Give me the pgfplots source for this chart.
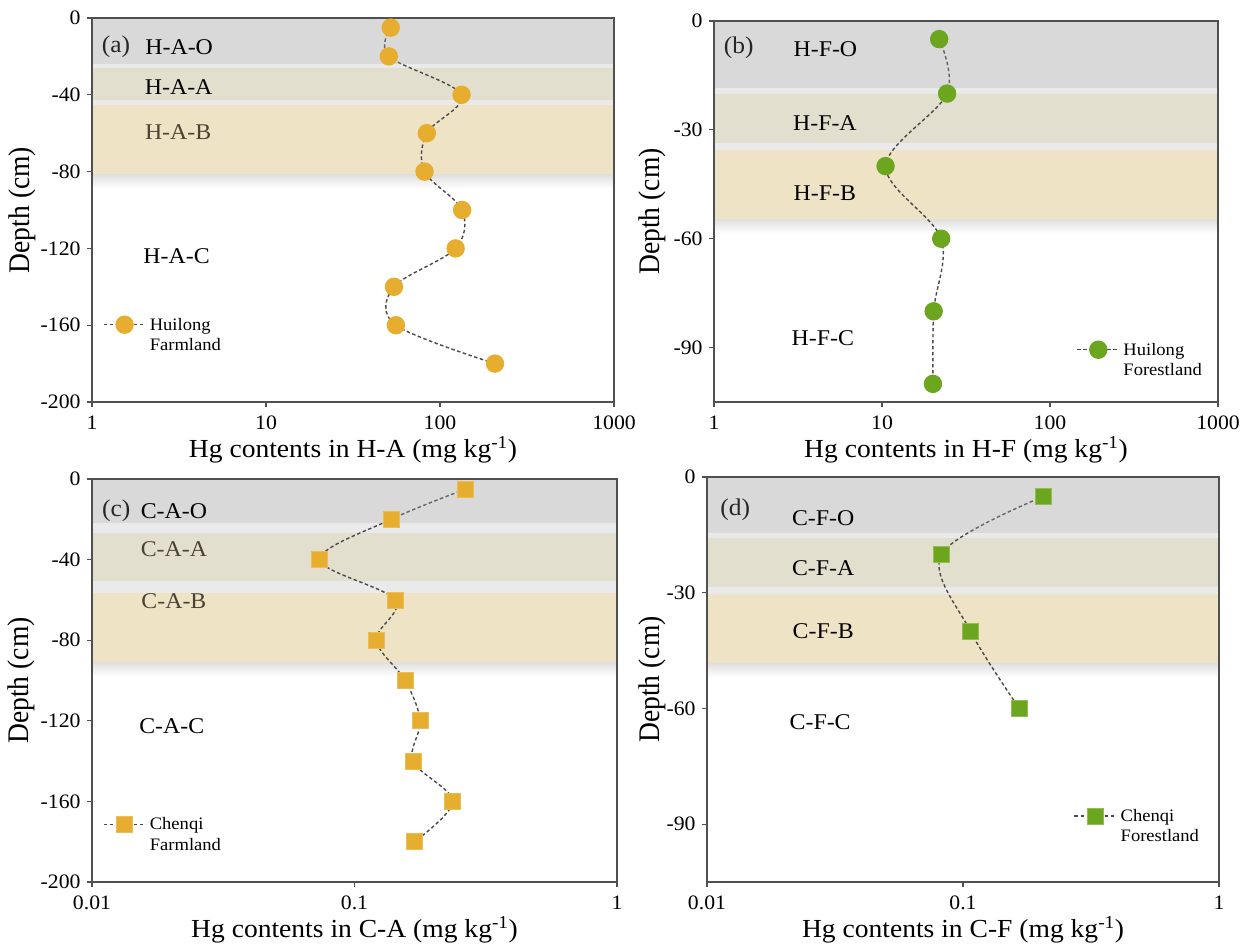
\documentclass[border=0pt]{standalone}
\usepackage{pgfplots}
\pgfplotsset{compat=1.18}
\usepackage{fontspec}
\setmainfont{Liberation Serif}[FakeStretch=1.06]
\definecolor{gold}{HTML}{E6AD2E}
\definecolor{grn}{HTML}{6CA61E}
\definecolor{bandA}{HTML}{E3DFCF}
\definecolor{bandB}{HTML}{EEE3C5}
\definecolor{bandgap}{HTML}{EAEAEA}
\definecolor{bandO}{HTML}{959595}
\definecolor{shadowc}{HTML}{E0E0E0}
\definecolor{axisgray}{HTML}{505050}
\definecolor{linegray}{HTML}{4A4A4A}
\definecolor{olivetext}{HTML}{4A4232}

\pgfplotsset{
  hgaxis/.style={
    scale only axis, axis on top, anchor=north west,
    tick pos=left, tick align=outside, major tick length=5bp,
    xminorticks=false, yminorticks=false,
    axis line style={draw=axisgray, line width=1.2bp},
    every tick/.style={draw=axisgray, line width=1.2bp},
    tick label style={font=\fontsize{20.5bp}{24bp}\selectfont},
    xticklabel style={yshift=-5bp},
    yticklabel style={xshift=-3bp},
    /pgf/number format/assume math mode=true,
    xlabel style={font=\fontsize{26bp}{30bp}\selectfont, at={(axis description cs:0.5,0)}, yshift=-48bp, anchor=center},
    ylabel style={font=\fontsize{26bp}{30bp}\selectfont, anchor=center, yscale=1.15},
    ylabel={Depth (cm)},
    legend style={draw=none, fill=none, font=\fontsize{17.5bp}{20bp}\selectfont, inner sep=0pt, row sep=4bp, column sep=2bp, nodes={inner sep=1.5bp}},
    legend cell align=left,
    legend image code/.code={\draw[mark repeat=2, mark phase=2] plot coordinates {(0bp,0bp) (21bp,0bp) (42bp,0bp)};},
  },
  dline/.style={smooth, tension=0.55, draw=linegray, line width=1.4bp, dash pattern=on 3.5bp off 2.5bp},
}
\tikzset{
  plab/.style={font=\fontsize{24bp}{28bp}\selectfont, anchor=center, text=black!85},
  blab/.style={font=\fontsize{22.5bp}{26bp}\selectfont, anchor=center},
}

\begin{document}
\begin{tikzpicture}
\useasboundingbox (0,0) rectangle (1250bp,-947bp);

% ---------------- (a)
\begin{semilogxaxis}[hgaxis, at={(92bp,-18bp)}, width=522bp, height=384bp,
  xmin=1, xmax=1000, ymin=-200, ymax=0,
  xtick={1,10,100,1000}, xticklabels={1,10,100,1000},
  ytick={0,-40,-80,-120,-160,-200},
  xlabel={Hg contents in H-A (mg kg\textsuperscript{-1})},
  ylabel style={at={(axis description cs:-0.134,0.5)}},
  legend style={at={(axis description cs:0.0205,0.224)}, anchor=north west}]
\fill[bandgap] (axis cs:1,-24) rectangle (axis cs:1000,-81.7);
\fill[bandA] (axis cs:1,-26) rectangle (axis cs:1000,-42.5);
\fill[bandB] (axis cs:1,-45.5) rectangle (axis cs:1000,-81.7);
\fill[top color=shadowc, bottom color=white] (axis cs:1,-81.7) rectangle (axis cs:1000,-89);
\addplot[dline, mark=*, mark size=8.5bp, mark options={solid, fill=gold, draw=gold}] coordinates {
 (52.1,-5) (50.8,-20) (133,-40) (84,-60) (81.5,-80) (134,-100) (123,-120) (54.4,-140) (55.8,-160) (207,-180)};
\addlegendentry{Huilong}
\addlegendimage{empty legend}
\addlegendentry{Farmland}
\fill[bandO, fill opacity=0.36] (axis cs:1,0) rectangle (axis cs:1000,-24);
\node[plab] at (rel axis cs:0.046,0.9245) {(a)};
\node[blab] at (rel axis cs:0.167,0.9245) {H-A-O};
\node[blab] at (rel axis cs:0.166,0.82) {H-A-A};
\node[blab, text=olivetext] at (rel axis cs:0.165,0.7025) {H-A-B};
\node[blab] at (rel axis cs:0.162,0.381) {H-A-C};
\end{semilogxaxis}

% ---------------- (b)
\begin{semilogxaxis}[hgaxis, at={(714bp,-21bp)}, width=504bp, height=381bp,
  xmin=1, xmax=1000, ymin=-105, ymax=0,
  xtick={1,10,100,1000}, xticklabels={1,10,100,1000},
  ytick={0,-30,-60,-90},
  xlabel={Hg contents in H-F (mg kg\textsuperscript{-1})},
  ylabel style={at={(axis description cs:-0.123,0.5)}},
  legend style={at={(axis description cs:0.719,0.16)}, anchor=north west}]
\fill[bandgap] (axis cs:1,-18.5) rectangle (axis cs:1000,-54.8);
\fill[bandA] (axis cs:1,-20) rectangle (axis cs:1000,-33.7);
\fill[bandB] (axis cs:1,-35.5) rectangle (axis cs:1000,-54.8);
\fill[top color=shadowc, bottom color=white] (axis cs:1,-54.8) rectangle (axis cs:1000,-58.5);
\addplot[dline, mark=*, mark size=8.5bp, mark options={solid, fill=grn, draw=grn}] coordinates {
 (21.9,-5) (24.4,-20) (10.5,-40) (22.5,-60) (20.3,-80) (20.1,-100)};
\addlegendentry{Huilong}
\addlegendimage{empty legend}
\addlegendentry{Forestland}
\fill[bandO, fill opacity=0.36] (axis cs:1,0) rectangle (axis cs:1000,-18.5);
\node[plab] at (rel axis cs:0.049,0.9295) {(b)};
\node[blab] at (rel axis cs:0.221,0.9267) {H-F-O};
\node[blab] at (rel axis cs:0.22,0.733) {H-F-A};
\node[blab] at (rel axis cs:0.22,0.549) {H-F-B};
\node[blab] at (rel axis cs:0.216,0.1676) {H-F-C};
\end{semilogxaxis}

% ---------------- (c)
\begin{semilogxaxis}[hgaxis, at={(92bp,-479bp)}, width=525bp, height=403bp,
  xmin=0.01, xmax=1, ymin=-200, ymax=0,
  xtick={0.01,0.1,1}, xticklabels={0.01,0.1,1},
  ytick={0,-40,-80,-120,-160,-200},
  xlabel={Hg contents in C-A (mg kg\textsuperscript{-1})},
  ylabel style={at={(axis description cs:-0.135,0.5)}},
  legend style={at={(axis description cs:0.0205,0.164)}, anchor=north west}]
\fill[bandgap] (axis cs:0.01,-21.7) rectangle (axis cs:1,-91);
\fill[bandA] (axis cs:0.01,-27) rectangle (axis cs:1,-50.4);
\fill[bandB] (axis cs:0.01,-56.7) rectangle (axis cs:1,-91);
\fill[top color=shadowc, bottom color=white] (axis cs:0.01,-91) rectangle (axis cs:1,-98);
\addplot[dline, mark=square*, mark size=8bp, mark options={solid, fill=gold, draw=gold!80!white, line width=0.8bp}] coordinates {
 (0.265,-5) (0.138,-20) (0.0738,-40) (0.143,-60) (0.121,-80) (0.156,-100) (0.178,-120) (0.167,-140) (0.237,-160) (0.169,-180)};
\addlegendentry{Chenqi}
\addlegendimage{empty legend}
\addlegendentry{Farmland}
\fill[bandO, fill opacity=0.36] (axis cs:0.01,0) rectangle (axis cs:1,-21.7);
\node[plab] at (rel axis cs:0.046,0.9205) {(c)};
\node[blab] at (rel axis cs:0.156,0.9205) {C-A-O};
\node[blab, text=olivetext] at (rel axis cs:0.156,0.8265) {C-A-A};
\node[blab, text=olivetext] at (rel axis cs:0.156,0.696) {C-A-B};
\node[blab] at (rel axis cs:0.152,0.3875) {C-A-C};
\end{semilogxaxis}

% ---------------- (d)
\begin{semilogxaxis}[hgaxis, at={(707bp,-477bp)}, width=512bp, height=405bp,
  xmin=0.01, xmax=1, ymin=-105, ymax=0,
  xtick={0.01,0.1,1}, xticklabels={0.01,0.1,1},
  ytick={0,-30,-60,-90},
  xlabel={Hg contents in C-F (mg kg\textsuperscript{-1})},
  ylabel style={at={(axis description cs:-0.107,0.5)}},
  legend style={at={(axis description cs:0.716,0.184)}, anchor=north west}]
\fill[bandgap] (axis cs:0.01,-14.5) rectangle (axis cs:1,-48.3);
\fill[bandA] (axis cs:0.01,-15.8) rectangle (axis cs:1,-28.6);
\fill[bandB] (axis cs:0.01,-30.3) rectangle (axis cs:1,-48.3);
\fill[top color=shadowc, bottom color=white] (axis cs:0.01,-48.3) rectangle (axis cs:1,-52);
\addplot[dline, mark=square*, mark size=8bp, mark options={solid, fill=grn, draw=grn!75!white, line width=0.8bp}] coordinates {
 (0.207,-5) (0.0824,-20) (0.107,-40) (0.166,-60)};
\addlegendentry{Chenqi}
\addlegendimage{empty legend}
\addlegendentry{Forestland}
\fill[bandO, fill opacity=0.36] (axis cs:0.01,0) rectangle (axis cs:1,-14.5);
\node[plab] at (rel axis cs:0.055,0.919) {(d)};
\node[blab] at (rel axis cs:0.227,0.899) {C-F-O};
\node[blab] at (rel axis cs:0.227,0.776) {C-F-A};
\node[blab] at (rel axis cs:0.227,0.619) {C-F-B};
\node[blab] at (rel axis cs:0.221,0.395) {C-F-C};
\end{semilogxaxis}
\end{tikzpicture}
\end{document}
